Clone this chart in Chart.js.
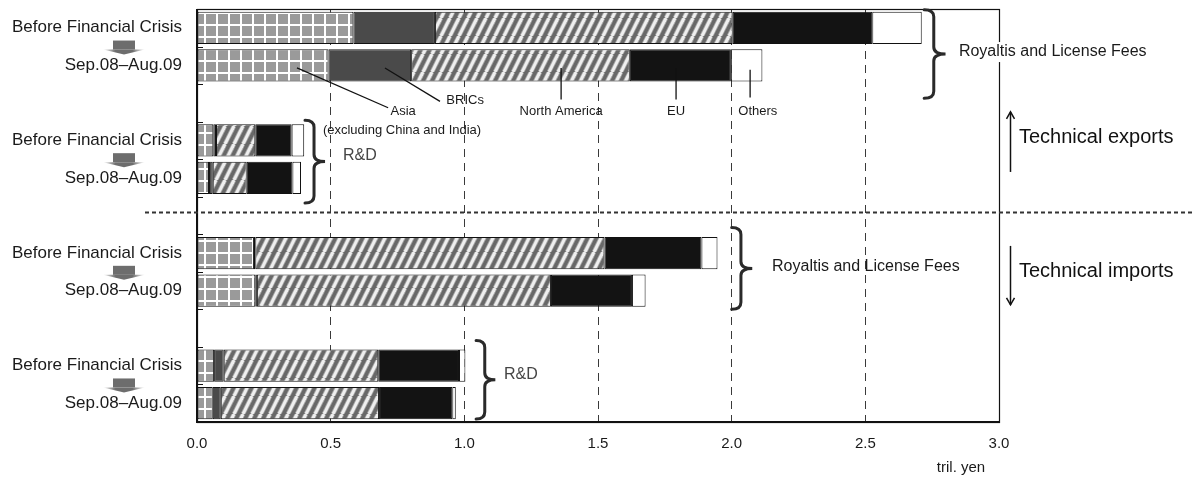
<!DOCTYPE html>
<html>
<head>
<meta charset="utf-8">
<script src="https://cdn.jsdelivr.net/npm/chart.js"></script>
<style>
  html, body { margin: 0; padding: 0; background: #ffffff; }
  #wrap { width: 1192px; height: 484px; position: relative; }
</style>
</head>
<body>
<div id="wrap"><canvas id="chart" width="1192" height="484"></canvas></div>
<script>
// Technology trade by region (trillion yen), two periods per block
const categories = [
  'Before Financial Crisis', 'Sep.08\u2013Aug.09', '',
  'Before Financial Crisis', 'Sep.08\u2013Aug.09', '',
  'Before Financial Crisis', 'Sep.08\u2013Aug.09', '',
  'Before Financial Crisis', 'Sep.08\u2013Aug.09'
];
const asia         = [0.585, 0.492, null, 0.061, 0.045, null, 0.213, 0.218, null, 0.064, 0.059];
const brics        = [0.305, 0.309, null, 0.010, 0.014, null, 0.005, 0.006, null, 0.036, 0.030];
const northAmerica = [1.114, 0.818, null, 0.147, 0.127, null, 1.306, 1.100, null, 0.578, 0.592];
const eu           = [0.522, 0.378, null, 0.136, 0.171, null, 0.363, 0.303, null, 0.302, 0.274];
const others       = [0.185, 0.118, null, 0.047, 0.032, null, 0.060, 0.051, null, 0.024, 0.013];
const xTicks = [0, 0.5, 1.0, 1.5, 2.0, 2.5, 3.0];

const FONT = "'Liberation Sans', Arial, sans-serif";

// Fill patterns
function gridPattern() {
  const c = document.createElement('canvas');
  c.width = 12; c.height = 12;
  const g = c.getContext('2d');
  g.fillStyle = '#9a9a9a';
  g.fillRect(0, 0, 12, 12);
  g.fillStyle = '#ffffff';
  g.fillRect(0, 0, 2, 12);
  g.fillRect(0, 0, 12, 2);
  return g.createPattern(c, 'repeat');
}
function stripePattern() {
  const W = 9, H = 18;
  const c = document.createElement('canvas');
  c.width = W; c.height = H;
  const g = c.getContext('2d');
  g.fillStyle = '#686868';
  g.fillRect(0, 0, W, H);
  const lines = (width, color) => {
    g.strokeStyle = color;
    g.lineWidth = width;
    for (let k = -1; k <= 1; k++) {
      g.beginPath();
      g.moveTo(k * W, H);
      g.lineTo(k * W + W, 0);
      g.stroke();
    }
  };
  lines(4.6, '#a4a4a4');
  lines(3.0, '#efefef');
  return g.createPattern(c, 'repeat');
}

// Annotation placement, in axis units (x: value, y: category index)
const callouts = [
  { from: [0.374, 1.07], to: [0.715, 2.13] },
  { from: [0.703, 1.07], to: [0.909, 1.96] },
  { from: [1.362, 1.07], to: [1.362, 1.91] },
  { from: [1.792, 1.07], to: [1.792, 1.91] },
  { from: [2.069, 1.12], to: [2.069, 1.86] }
];
const calloutLabels = [
  { text: 'Asia', at: [0.771, 2.22] },
  { text: '(excluding China and India)', at: [0.767, 2.73] },
  { text: 'BRICs', at: [1.003, 1.93] },
  { text: 'North America', at: [1.362, 2.22] },
  { text: 'EU', at: [1.792, 2.22] },
  { text: 'Others', at: [2.098, 2.22] }
];
const braces = [
  { x: 2.72, w: 0.08, top: -0.48, bottom: 1.88, label: 'Royaltis and License Fees', lx: 2.85, size: 16, color: '#1a1a1a', bg: true },
  { x: 0.404, w: 0.075, top: 2.46, bottom: 4.67, label: 'R&D', lx: 0.546, size: 16, color: '#444', ly: 3.4 },
  { x: 2.0, w: 0.077, top: 5.32, bottom: 7.5, label: 'Royaltis and License Fees', lx: 2.151, size: 16, color: '#1a1a1a' },
  { x: 1.044, w: 0.072, top: 8.33, bottom: 10.42, label: 'R&D', lx: 1.148, size: 16, color: '#444', ly: 9.25 }
];

const overlay = {
  id: 'overlay',
  afterDatasetsDraw(chart) {
    const { ctx, chartArea: a, scales } = chart;
    const X = v => scales.x.getPixelForValue(v);
    const Y = c => scales.y.getPixelForValue(c);
    ctx.save();

    // Plot frame
    ctx.strokeStyle = '#111';
    ctx.lineWidth = 1.2;
    ctx.strokeRect(a.left + 0.5, a.top + 0.5, a.right - a.left, a.bottom - a.top);
    ctx.lineWidth = 2;
    ctx.beginPath();
    ctx.moveTo(a.left, a.top); ctx.lineTo(a.left, a.bottom); ctx.lineTo(a.right, a.bottom);
    ctx.stroke();

    // Inner category ticks on the left edge
    ctx.lineWidth = 1;
    for (let i = 0; i < categories.length - 1; i++) {
      const yy = Math.round(Y(i + 0.5)) + 0.5;
      ctx.beginPath(); ctx.moveTo(a.left, yy); ctx.lineTo(a.left + 6, yy); ctx.stroke();
    }

    // Exports / imports separator
    const ySep = Math.round(Y(4.9)) + 0.5;
    ctx.setLineDash([4, 3]);
    ctx.lineWidth = 2;
    ctx.strokeStyle = '#333';
    ctx.beginPath(); ctx.moveTo(145, ySep); ctx.lineTo(1192, ySep); ctx.stroke();
    ctx.setLineDash([]);

    // Period arrow icons between the two period labels
    for (let i = 0; i < categories.length - 1; i += 3) {
      const mid = (Y(i) + Y(i + 1)) / 2;
      ctx.fillStyle = '#6d6d6d';
      ctx.fillRect(113, mid - 6, 22, 9);
      const grad = ctx.createLinearGradient(103, 0, 145, 0);
      grad.addColorStop(0, 'rgba(110,110,110,0)');
      grad.addColorStop(0.3, '#6d6d6d');
      grad.addColorStop(0.7, '#6d6d6d');
      grad.addColorStop(1, 'rgba(110,110,110,0)');
      ctx.fillStyle = grad;
      ctx.beginPath();
      ctx.moveTo(103, mid + 3); ctx.lineTo(145, mid + 3); ctx.lineTo(124, mid + 8);
      ctx.closePath(); ctx.fill();
    }

    // Callout leader lines and labels
    ctx.strokeStyle = '#111';
    ctx.lineWidth = 1.3;
    callouts.forEach(c => {
      ctx.beginPath();
      ctx.moveTo(X(c.from[0]), Y(c.from[1]));
      ctx.lineTo(X(c.to[0]), Y(c.to[1]));
      ctx.stroke();
    });
    ctx.fillStyle = '#1a1a1a';
    ctx.font = '13px ' + FONT;
    ctx.textAlign = 'center';
    ctx.textBaseline = 'middle';
    calloutLabels.forEach(l => ctx.fillText(l.text, X(l.at[0]), Y(l.at[1])));

    // Braces with group labels
    braces.forEach(b => {
      const xl = X(b.x), xt = X(b.x + b.w), xm = xl + (xt - xl) * 0.45;
      const yt = Y(b.top), yb = Y(b.bottom), ym = (yt + yb) / 2, r = 7;
      ctx.strokeStyle = '#2a2a2a';
      ctx.lineWidth = 3;
      ctx.lineCap = 'round';
      ctx.beginPath();
      ctx.moveTo(xl, yt);
      ctx.quadraticCurveTo(xm, yt, xm, yt + r);
      ctx.lineTo(xm, ym - r);
      ctx.quadraticCurveTo(xm, ym, xt, ym);
      ctx.quadraticCurveTo(xm, ym, xm, ym + r);
      ctx.lineTo(xm, yb - r);
      ctx.quadraticCurveTo(xm, yb, xl, yb);
      ctx.stroke();
      ctx.font = b.size + 'px ' + FONT;
      ctx.textAlign = 'left';
      ctx.textBaseline = 'middle';
      const ly = b.ly !== undefined ? Y(b.ly) : ym - 2;
      const lx = X(b.lx);
      if (b.bg) {
        const w = ctx.measureText(b.label).width;
        ctx.fillStyle = '#ffffff';
        ctx.fillRect(lx - 3, ly - 10, w + 6, 20);
      }
      ctx.fillStyle = b.color;
      ctx.fillText(b.label, lx, ly);
    });

    // Direction markers on the right
    const arrow = (x, y0, y1) => {
      const d = y1 > y0 ? 1 : -1;
      ctx.strokeStyle = '#111';
      ctx.lineWidth = 1.5;
      ctx.lineCap = 'butt';
      ctx.beginPath(); ctx.moveTo(x, y0); ctx.lineTo(x, y1); ctx.stroke();
      ctx.beginPath();
      ctx.moveTo(x - 4, y1 - d * 7); ctx.lineTo(x, y1); ctx.lineTo(x + 4, y1 - d * 7);
      ctx.stroke();
    };
    arrow(1010.5, Y(3.84), Y(2.24));
    arrow(1010.5, Y(5.81), Y(7.38));
    ctx.fillStyle = '#111';
    ctx.font = '20px ' + FONT;
    ctx.textAlign = 'left';
    ctx.textBaseline = 'middle';
    ctx.fillText('Technical exports', 1019, Y(2.92));
    ctx.fillText('Technical imports', 1019, Y(6.5));

    // Unit label
    ctx.font = '15px ' + FONT;
    ctx.textAlign = 'center';
    ctx.fillStyle = '#1a1a1a';
    ctx.fillText('tril. yen', 961, 468);

    ctx.restore();
  }
};

const seg = (label, data, fill) => ({
  label, data,
  backgroundColor: fill,
  borderColor: '#111',
  borderWidth: 1,
  borderSkipped: false,
  barPercentage: 0.86,
  categoryPercentage: 1.0
});

new Chart(document.getElementById('chart'), {
  type: 'bar',
  data: {
    labels: categories,
    datasets: [
      seg('Asia (excluding China and India)', asia, gridPattern()),
      seg('BRICs', brics, '#4a4a4a'),
      seg('North America', northAmerica, stripePattern()),
      seg('EU', eu, '#131313'),
      seg('Others', others, '#ffffff')
    ]
  },
  options: {
    indexAxis: 'y',
    responsive: false,
    animation: false,
    devicePixelRatio: 1,
    layout: { padding: { left: 0, top: 9, right: 193, bottom: 0 } },
    plugins: { legend: { display: false }, tooltip: { enabled: false } },
    scales: {
      x: {
        stacked: true,
        min: 0, max: 3,
        afterBuildTicks(scale) { scale.ticks = xTicks.map(v => ({ value: v })); },
        afterFit(scale) {
          scale.height = 62;
          scale.paddingLeft = 0; scale.paddingRight = 0;
        },
        grid: {
          drawTicks: false,
          color: c => (c.tick && (c.tick.value === 0 || c.tick.value === 3)) ? 'rgba(0,0,0,0)' : '#3a3a3a',
          lineWidth: 1
        },
        border: { display: false, dash: [8, 6] },
        ticks: {
          padding: 13,
          color: '#1a1a1a',
          font: { family: FONT, size: 15 },
          callback: v => Number(v).toFixed(1)
        }
      },
      y: {
        stacked: true,
        afterFit(scale) {
          scale.width = 197;
          scale.paddingTop = 0; scale.paddingBottom = 0;
        },
        grid: { display: false, drawTicks: false },
        border: { display: false },
        ticks: {
          autoSkip: false,
          padding: 15,
          color: '#1a1a1a',
          font: { family: FONT, size: 17 }
        }
      }
    }
  },
  plugins: [overlay]
});
</script>
</body>
</html>
